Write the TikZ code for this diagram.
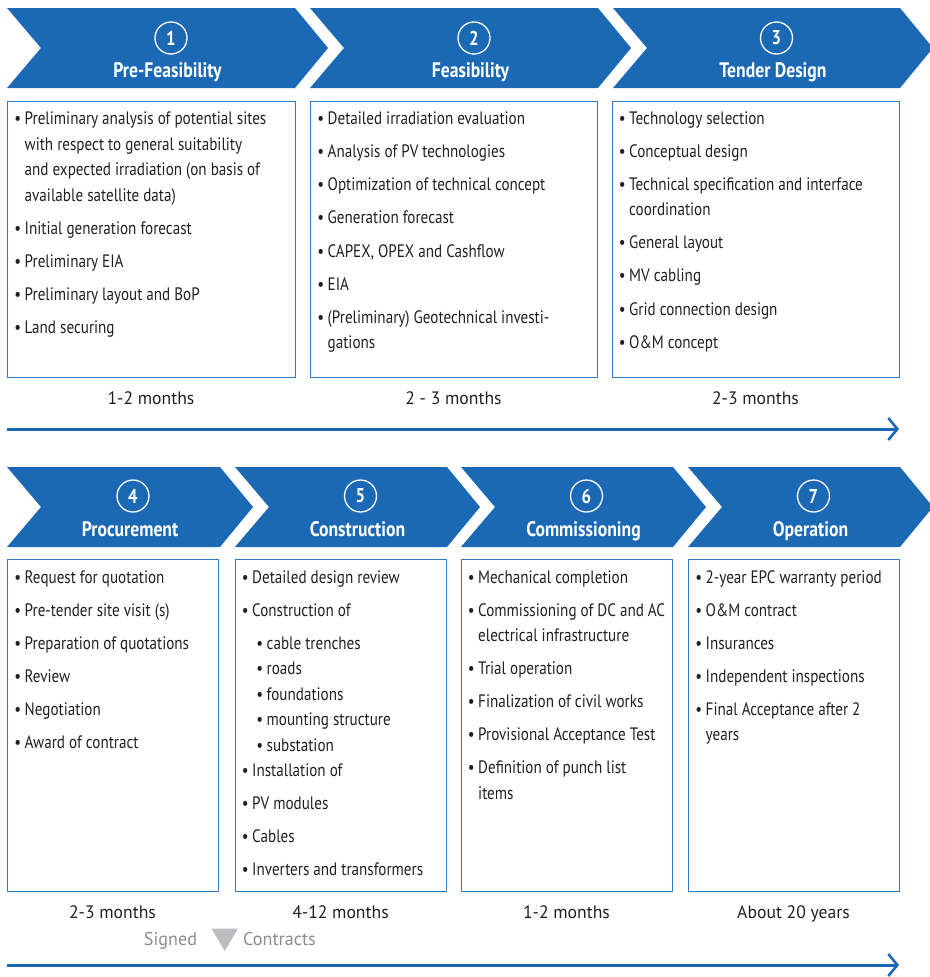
\documentclass[tikz,border=0pt]{standalone}
\usepackage{fontspec}
\setmainfont{PT Sans}[FakeStretch=0.84]
\newfontfamily\widefont{PT Sans}[FakeStretch=0.98]
\usetikzlibrary{arrows.meta}
\definecolor{chevblue}{RGB}{27,105,181}
\definecolor{boxblue}{RGB}{52,122,192}
\definecolor{txt}{RGB}{35,31,32}
\definecolor{sgray}{RGB}{140,140,140}
\definecolor{tgray}{RGB}{188,189,192}
\newcommand\mychev[4]{%
  \fill[chevblue] (#1,#2) -- (#3,#2) -- (#3+33,#2+40) -- (#3,#2+80) -- (#1,#2+80) -- (#1+34,#2+40) -- cycle;}
\begin{document}
\begin{tikzpicture}[x=1pt,y=-1pt,
  numc/.style={circle,draw=white,line width=1.3pt,minimum size=32pt,inner sep=0pt,text=white,font=\bfseries\fontsize{20}{20}\selectfont},
  ttl/.style={anchor=base,text=white,inner sep=0pt,font=\bfseries\fontsize{21}{21}\selectfont},
  bxs/.style={draw=boxblue,line width=1pt},
  itb/.style={anchor=base west,inner sep=0pt,text=txt,font=\fontsize{18}{20}\selectfont,execute at begin node={\llap{•\hspace{3.5pt}}}},
  itc/.style={anchor=base west,inner sep=0pt,text=txt,font=\fontsize{18}{20}\selectfont},
  its/.style={itb,xshift=14.5pt},
  dur/.style={anchor=base,inner sep=0pt,text=txt,font=\widefont\fontsize{18}{20}\selectfont},
  sig/.style={anchor=base,inner sep=0pt,text=sgray,font=\widefont\fontsize{18.5}{20}\selectfont},
  tl/.style={draw=chevblue,line width=3pt,-{Straight Barb[length=9pt,width=22pt,line width=2.6pt]}}]
\useasboundingbox (0,0) rectangle (929,977);
% chevrons top
\mychev{7}{8}{295}{88}
\mychev{310}{8}{598}{88}
\mychev{613}{8}{900}{88}
% chevrons bottom
\mychev{7}{467}{220}{547}
\mychev{235}{467}{447}{547}
\mychev{461}{467}{673}{547}
\mychev{688}{467}{900}{547}
% headers
\node[numc] (c1) at (171,38) {1};
\node[ttl] (h1) at (167.5,77.5) {Pre-Feasibility};
\node[numc] (c2) at (474,38) {2};
\node[ttl] (h2) at (470.5,77.5) {Feasibility};
\node[numc] (c3) at (776.5,38) {3};
\node[ttl] (h3) at (773,77.5) {Tender Design};
\node[numc] (c4) at (133,496) {4};
\node[ttl] (h4) at (130,536) {Procurement};
\node[numc] (c5) at (360.5,496) {5};
\node[ttl] (h5) at (357.5,536) {Construction};
\node[numc] (c6) at (586.5,496) {6};
\node[ttl] (h6) at (583.5,536) {Commissioning};
\node[numc] (c7) at (813.5,496) {7};
\node[ttl] (h7) at (810.5,536) {Operation};
% boxes
\draw[bxs] (7,101) rectangle (295,377);
\draw[bxs] (310,101) rectangle (597,377);
\draw[bxs] (612,101) rectangle (899,377);
\draw[bxs] (7,559) rectangle (218,891);
\draw[bxs] (235,559) rectangle (446,891);
\draw[bxs] (461,559) rectangle (672,891);
\draw[bxs] (688,559) rectangle (899,891);
% box 1
\foreach \yy/\ty/\txt [count=\i] in {124.5/b/{Preliminary analysis of potential sites},150/c/{with respect to general suitability},175.5/c/{and expected irradiation (on basis of},201/c/{available satellite data)},234/b/{Initial generation forecast},267/b/{Preliminary EIA},300/b/{Preliminary layout and BoP},333/b/{Land securing}}
  {\node[it\ty] (a-\i) at (24.5,\yy) {\txt};}
% box 2
\foreach \yy/\ty/\txt [count=\i] in {124/b/{Detailed irradiation evaluation},157/b/{Analysis of PV technologies},190/b/{Optimization of technical concept},223/b/{Generation forecast},257/b/{CAPEX, OPEX and Cashflow},290/b/{EIA},323/b/{(Preliminary) Geotechnical investi-},348.5/c/{gations}}
  {\node[it\ty] (b-\i) at (327.5,\yy) {\txt};}
% box 3
\foreach \yy/\ty/\txt [count=\i] in {124/b/{Technology selection},157/b/{Conceptual design},190/b/{Technical specification and interface},215.5/c/{coordination},248.5/b/{General layout},281.5/b/{MV cabling},315/b/{Grid connection design},348/b/{O\&M concept}}
  {\node[it\ty] (e-\i) at (629,\yy) {\txt};}
% box 4
\foreach \yy/\ty/\txt [count=\i] in {583/b/{Request for quotation},616/b/{Pre-tender site visit (s)},649/b/{Preparation of quotations},682/b/{Review},715/b/{Negotiation},748/b/{Award of contract}}
  {\node[it\ty] (f-\i) at (24.5,\yy) {\txt};}
% box 5
\foreach \yy/\ty/\txt [count=\i] in {583/b/{Detailed design review},616/b/{Construction of},649/s/{cable trenches},674.5/s/{roads},700/s/{foundations},725.5/s/{mounting structure},751/s/{substation},776.5/b/{Installation of},809.5/b/{PV modules},842.5/b/{Cables},875.5/b/{Inverters and transformers}}
  {\node[it\ty] (g-\i) at (252,\yy) {\txt};}
% box 6
\foreach \yy/\ty/\txt [count=\i] in {583/b/{Mechanical completion},616/b/{Commissioning of DC and AC},641.5/c/{electrical infrastructure},674.5/b/{Trial operation},707.5/b/{Finalization of civil works},740.5/b/{Provisional Acceptance Test},773.5/b/{Definition of punch list},799/c/{items}}
  {\node[it\ty] (k-\i) at (478,\yy) {\txt};}
% box 7
\foreach \yy/\ty/\txt [count=\i] in {583/b/{2-year EPC warranty period},616/b/{O\&M contract},649/b/{Insurances},682/b/{Independent inspections},715/b/{Final Acceptance after 2},740.5/c/{years}}
  {\node[it\ty] (m-\i) at (705.5,\yy) {\txt};}
% durations
\node[dur] (d1) at (151,404) {1-2 months};
\node[dur] (d2) at (453.5,404) {2 - 3 months};
\node[dur] (d3) at (755.5,404) {2-3 months};
\node[dur] (d4) at (112.5,918) {2-3 months};
\node[dur] (d5) at (340.5,918) {4-12 months};
\node[dur] (d6) at (566.5,918) {1-2 months};
\node[dur] (d7) at (793.5,918) {About 20 years};
% signed contracts
\node[sig] (sg1) at (170.5,945) {Signed};
\fill[tgray] (211.5,928.5) -- (238,928.5) -- (224.75,951) -- cycle;
\node[sig] (sg2) at (279.5,945) {Contracts};
% timelines
\coordinate (t1s) at (7,429);
\coordinate (t1e) at (899,429);
\draw[tl] (t1s) -- (t1e);
\coordinate (t2s) at (7,965);
\coordinate (t2e) at (899,965);
\draw[tl] (t2s) -- (t2e);
\end{tikzpicture}
\end{document}
